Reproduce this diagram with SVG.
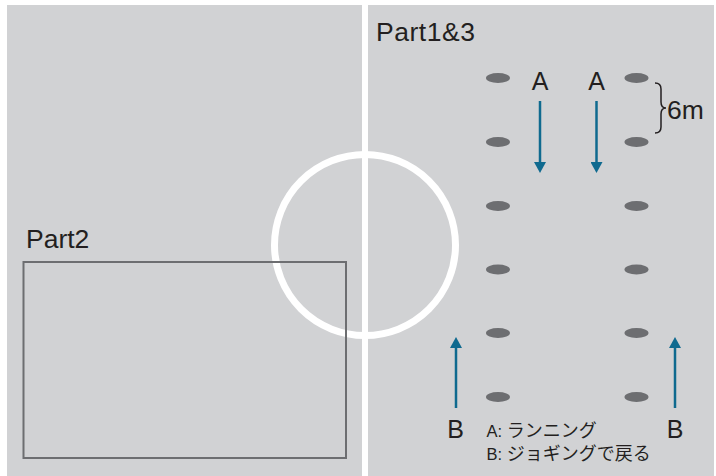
<svg xmlns="http://www.w3.org/2000/svg" width="716" height="476" viewBox="0 0 716 476">
  <defs>
    <marker id="ah" viewBox="0 0 11 12" refX="3" refY="6" markerWidth="11" markerHeight="12" markerUnits="userSpaceOnUse" orient="auto">
      <path d="M0,0 L11,6 L0,12 z" fill="#0f6a8f"/>
    </marker>
    <style>
      .lbl { font-family: "Liberation Sans", "Noto Sans CJK JP", sans-serif; fill: #231f20; }
      .big { font-size: 26.5px; }
      .let { font-size: 25px; text-anchor: middle; }
      .leg { font-size: 16.5px; }
      .jp { font-size: 18px; }
      .cone { fill: #6d6e71; }
      .arr { stroke: #0f6a8f; stroke-width: 2.5; fill: none; marker-end: url(#ah); }
      .white { stroke: #ffffff; fill: none; }
    </style>
  </defs>
  <rect x="0" y="0" width="716" height="476" fill="#ffffff"/>
  <rect x="7" y="5" width="707" height="471" fill="#d1d2d4"/>
  <g id="field">
    <circle class="white" cx="365" cy="245" r="90.5" stroke-width="7"/>
    <rect x="362" y="0" width="6" height="476" fill="#ffffff"/>
  </g>
  <g id="part2">
    <rect x="23.5" y="262" width="322.5" height="196" fill="none" stroke="#6d6e71" stroke-width="2"/>
    <text class="lbl big" x="26" y="248">Part2</text>
  </g>
  <g id="part13">
    <text class="lbl big" x="376" y="41" textLength="99">Part1&amp;3</text>
  </g>
  <g id="cones">
    <ellipse class="cone" cx="498" cy="78" rx="12" ry="5"/>
    <ellipse class="cone" cx="498" cy="142" rx="12" ry="5"/>
    <ellipse class="cone" cx="498" cy="206" rx="12" ry="5"/>
    <ellipse class="cone" cx="498" cy="269.5" rx="12" ry="5"/>
    <ellipse class="cone" cx="498" cy="333" rx="12" ry="5"/>
    <ellipse class="cone" cx="498" cy="397" rx="12" ry="5"/>
    <ellipse class="cone" cx="636.5" cy="78" rx="12" ry="5"/>
    <ellipse class="cone" cx="636.5" cy="142" rx="12" ry="5"/>
    <ellipse class="cone" cx="636.5" cy="206" rx="12" ry="5"/>
    <ellipse class="cone" cx="636.5" cy="269.5" rx="12" ry="5"/>
    <ellipse class="cone" cx="636.5" cy="333" rx="12" ry="5"/>
    <ellipse class="cone" cx="636.5" cy="397" rx="12" ry="5"/>
  </g>
  <g id="labels">
    <text class="lbl let" x="540" y="89.5">A</text>
    <text class="lbl let" x="596.5" y="89.5">A</text>
    <text class="lbl let" x="455.5" y="437.5">B</text>
    <text class="lbl let" x="675" y="437.5">B</text>
  </g>
  <g id="distance">
    <path d="M655,83 Q661,83 661,89 L661,102 Q661,108 666,108 Q661,108 661,114 L661,127 Q661,133 655,133" fill="none" stroke="#231f20" stroke-width="1.5"/>
    <text class="lbl big" x="667" y="119">6m</text>
  </g>
  <g id="legend">
    <text class="lbl leg" x="486.5" y="437">A: <tspan class="jp">ランニング</tspan></text>
    <text class="lbl leg" x="486.5" y="460">B: <tspan class="jp">ジョギングで戻る</tspan></text>
  </g>
  <g id="connectors">
    <line class="arr" x1="540" y1="101" x2="540" y2="165"/>
    <line class="arr" x1="596.5" y1="101" x2="596.5" y2="165"/>
    <line class="arr" x1="456" y1="408" x2="456" y2="345"/>
    <line class="arr" x1="675" y1="408" x2="675" y2="345"/>
  </g>
</svg>
